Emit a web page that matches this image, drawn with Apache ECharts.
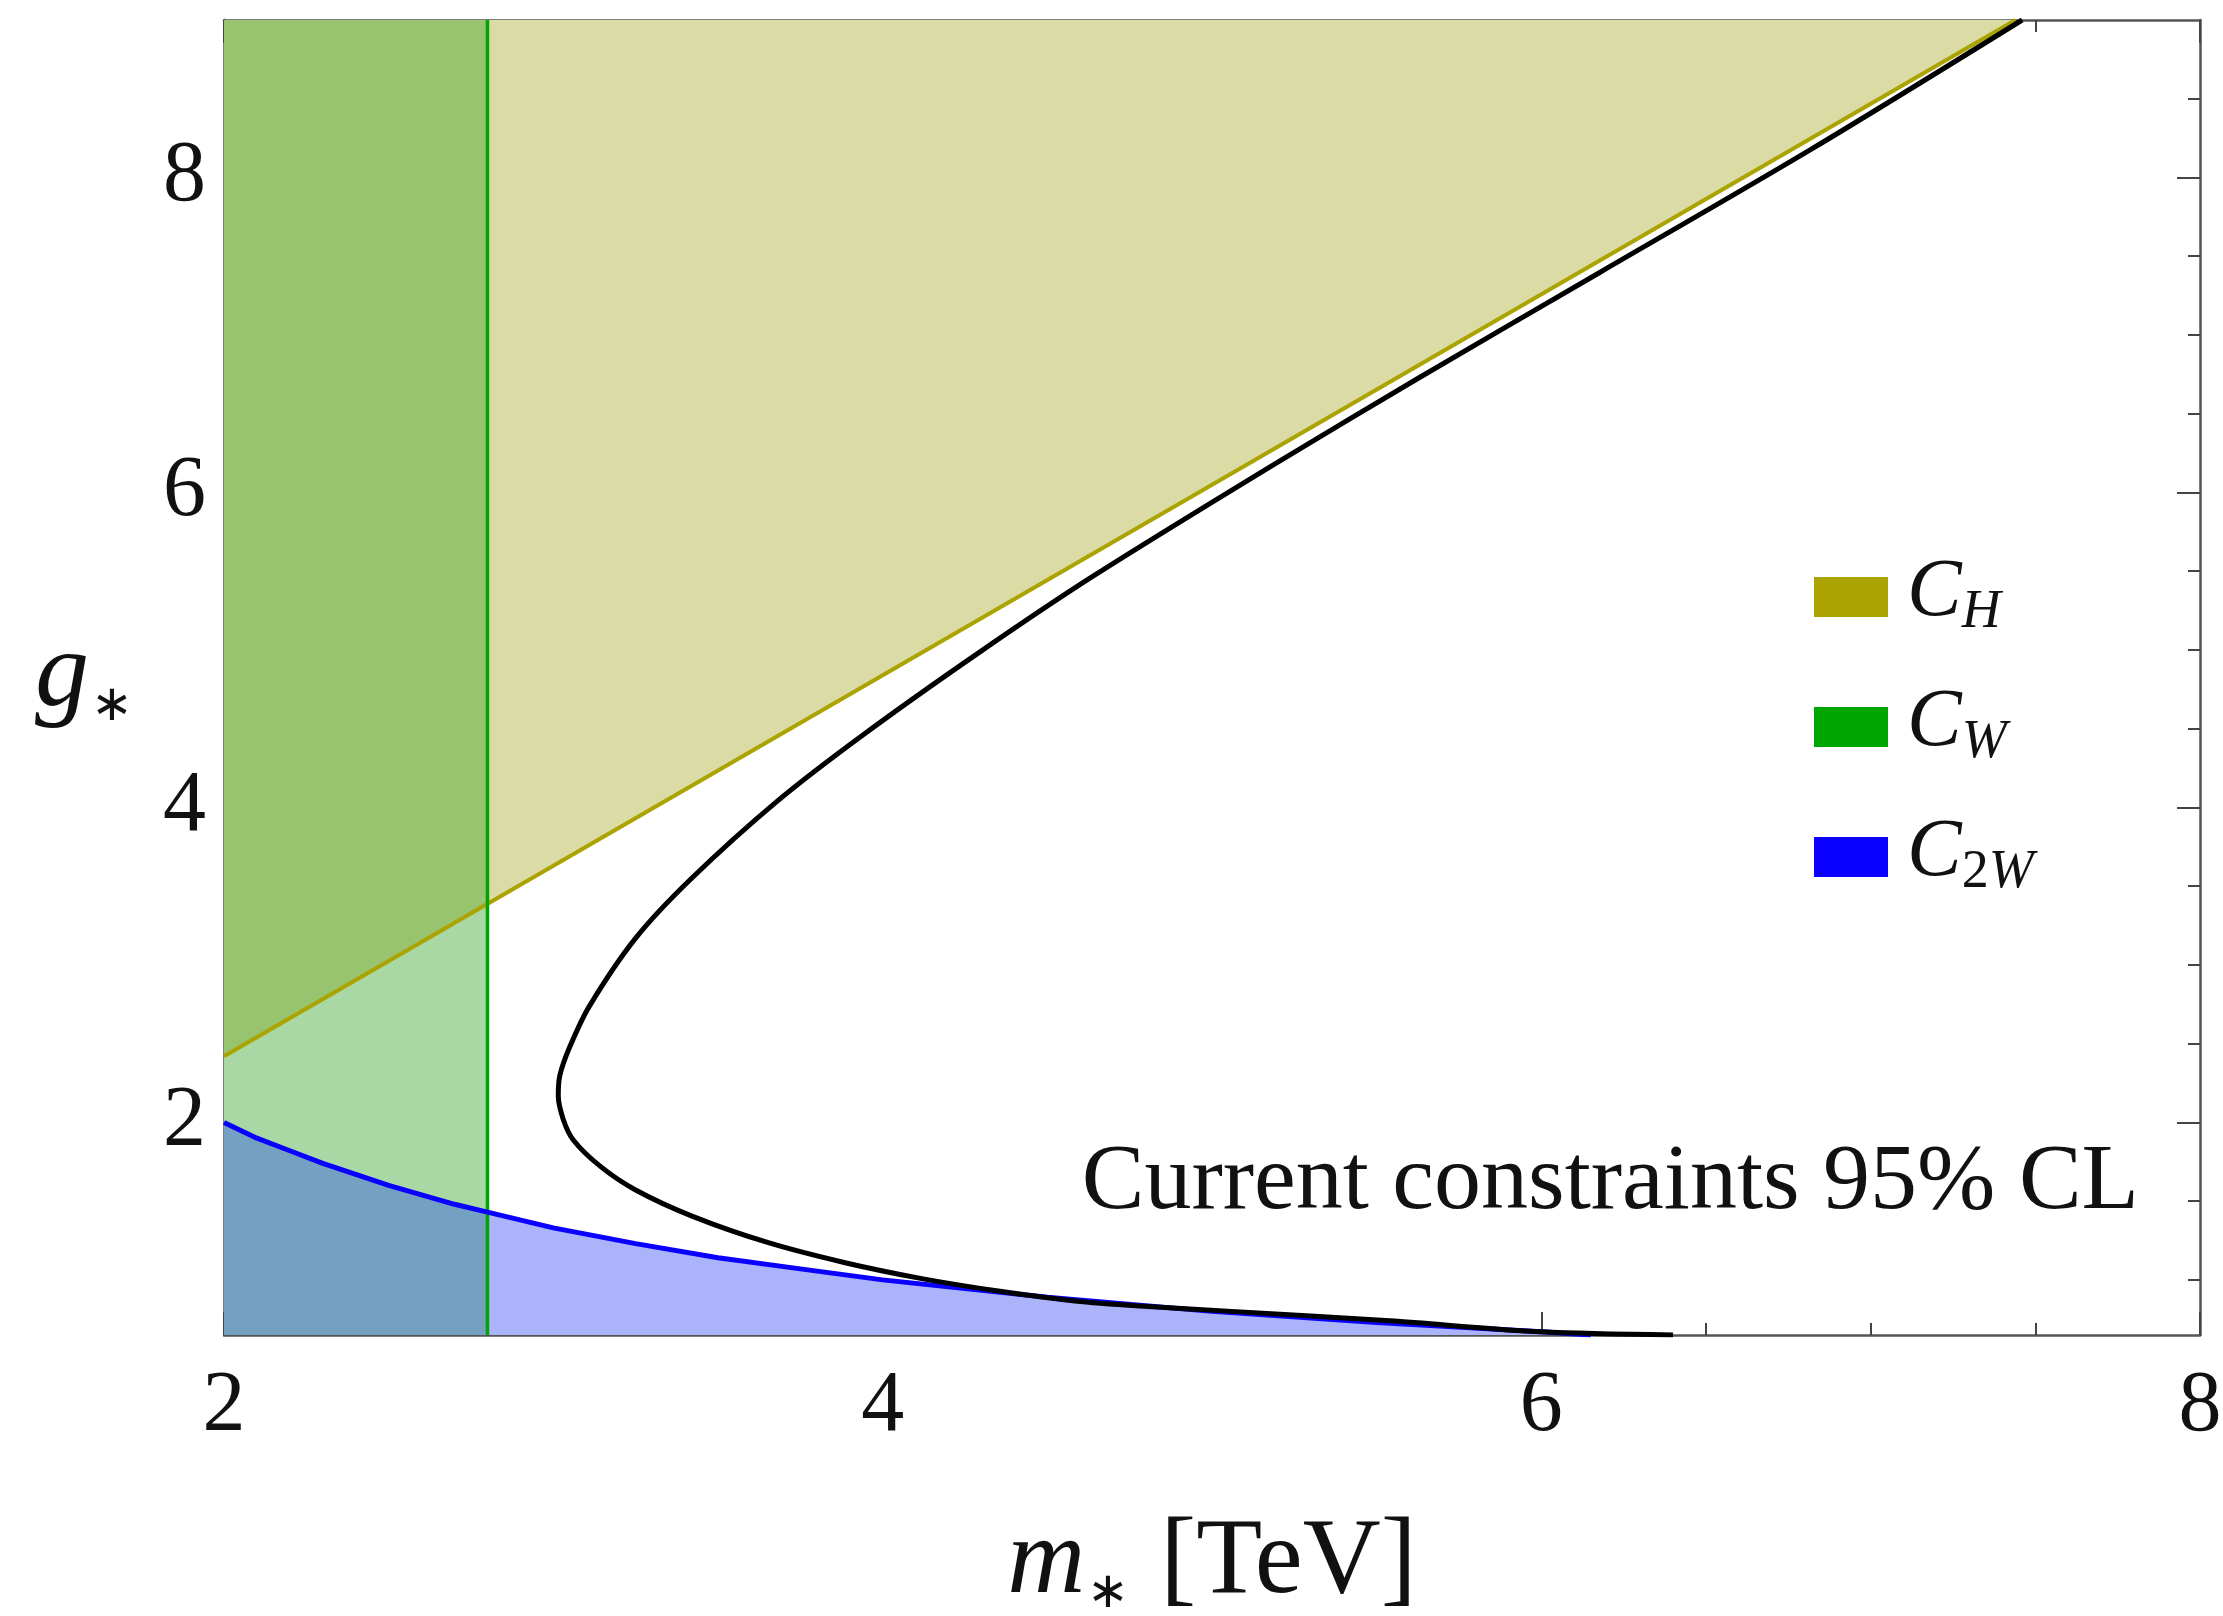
<!DOCTYPE html>
<html>
<head>
<meta charset="utf-8">
<script src="https://cdn.jsdelivr.net/npm/echarts@6.0.0/dist/echarts.min.js"></script>
<style>
  html, body { margin: 0; padding: 0; background: #fff; }
  #main { width: 2223px; height: 1616px; }
</style>
</head>
<body>
<div id="main"></div>
<script>
const serif = 'Liberation Serif';

// axes
const mRange = [2, 8];
const gRange = [0.65, 9];
const mTicks = [2, 4, 6, 8];
const mMinorTicks = [2.5, 3, 3.5, 4.5, 5, 5.5, 6.5, 7, 7.5];
const gTicks = [2, 4, 6, 8];
const gMinorTicks = [1, 1.5, 2.5, 3, 3.5, 4.5, 5, 5.5, 6.5, 7, 7.5, 8.5];

// C_H bound (straight line), excluded above it
const cHLine = [[2, 2.42], [7.44, 9]];
// C_W bound, m* below this is excluded
const cWMass = 2.8;
// C_2W bound, excluded below it
const c2WCurve = [
    [2, 2.0], [2.1, 1.9], [2.2, 1.82], [2.3, 1.74], [2.4, 1.67], [2.5, 1.6], [2.6, 1.54],
    [2.7, 1.48], [2.8, 1.43], [3.0, 1.33], [3.25, 1.23], [3.5, 1.14], [3.75, 1.07],
    [4.0, 1.0], [4.5, 0.89], [5.0, 0.8], [5.5, 0.73], [6.0, 0.67], [6.15, 0.65]
];
// black contour
const blackCurve = [
    [7.46, 9.0], [6.82, 8.18], [6.18, 7.4], [5.63, 6.73], [5.19, 6.18], [4.64, 5.47],
    [4.29, 4.98], [3.94, 4.46], [3.68, 4.04], [3.42, 3.55], [3.25, 3.17], [3.11, 2.74],
    [3.05, 2.48], [3.02, 2.3], [3.015, 2.17], [3.03, 2.02], [3.06, 1.89], [3.142, 1.722],
    [3.247, 1.574], [3.421, 1.405], [3.653, 1.236], [3.886, 1.109], [4.119, 1.008],
    [4.351, 0.929], [4.584, 0.866], [4.78, 0.834], [5.06, 0.8], [5.54, 0.74],
    [6.0, 0.67], [6.4, 0.65]
];

const legendNames = ['CH', 'CW', 'C2W'];
const legendLabels = {
    CH: '{c|C}{s|H}',
    CW: '{c|C}{s|W}',
    C2W: '{c|C}{n|2}{s|W}'
};
const noteText = 'Current constraints 95% CL';

// ---- region polygons built from the bounds above ----
function lineAt(m) {
    const a = cHLine[0], b = cHLine[1];
    return a[1] + (m - a[0]) * (b[1] - a[1]) / (b[0] - a[0]);
}
const gBot = gRange[0], gTop = gRange[1], mLeft = mRange[0];
const c2WLeft = c2WCurve.filter(p => p[0] <= cWMass);
const regions = [
    { pts: [cHLine[0], cHLine[1], [mLeft, gTop]], color: '#dbdba6' },                       // C_H only
    { pts: c2WCurve.concat([[mLeft, gBot]]), color: '#abb4fa' },                             // C_2W only
    { pts: c2WLeft.concat([[cWMass, gBot], [mLeft, gBot]]), color: '#74a1c2' },              // C_W + C_2W
    { pts: [cHLine[0], [cWMass, lineAt(cWMass)]].concat(c2WLeft.slice().reverse()), color: '#aad8a5' }, // C_W only
    { pts: [cHLine[0], [cWMass, lineAt(cWMass)], [cWMass, gTop], [mLeft, gTop]], color: '#99c46f' }     // C_W + C_H
];

const frameLine = { show: true, lineStyle: { color: '#555', width: 2.5 } };
const tickLine = { color: '#444', width: 2 };

function axis(pos, range, ticks, len, extra) {
    return Object.assign({
        type: 'value',
        position: pos,
        min: range[0],
        max: range[1],
        axisLine: frameLine,
        axisTick: { show: true, inside: true, length: len, customValues: ticks, lineStyle: tickLine },
        axisLabel: { show: false },
        splitLine: { show: false }
    }, extra || {});
}

const tickFont = { fontFamily: serif, fontSize: 86, color: '#111' };
const titleRich = {
    v: { fontFamily: serif, fontStyle: 'italic', fontSize: 108, lineHeight: 108, verticalAlign: 'bottom', padding: [0, 0, 15, 0] },
    s: { fontFamily: serif, fontSize: 50, lineHeight: 108, verticalAlign: 'bottom', padding: [0, 4, 14, 2] },
    t: { fontFamily: serif, fontSize: 108, lineHeight: 108, verticalAlign: 'bottom', padding: [0, 0, 15, 0] }
};

const chart = echarts.init(document.getElementById('main'));
chart.setOption({
    animation: false,
    backgroundColor: '#fff',
    textStyle: { fontFamily: serif },
    grid: { left: 224, right: 23, top: 20, bottom: 281, outerBoundsMode: 'none', containLabel: false },
    xAxis: [
        axis('bottom', mRange, mTicks, 23, {
            axisLabel: Object.assign({ show: true, customValues: mTicks, margin: 29 }, tickFont),
            name: '{v|m}{s|∗}{t| [TeV]}',
            nameLocation: 'middle',
            nameGap: 190,
            nameTextStyle: { fontFamily: serif, fontSize: 108, color: '#111', rich: titleRich }
        }),
        axis('bottom', mRange, mMinorTicks, 12, { axisLine: { show: false } }),
        axis('top', mRange, mTicks, 23),
        axis('top', mRange, mMinorTicks, 12, { axisLine: { show: false } })
    ],
    yAxis: [
        axis('left', gRange, gTicks, 23, {
            axisLabel: Object.assign({ show: true, customValues: gTicks, margin: 18 }, tickFont),
            name: '{v|g}{s|∗}',
            nameLocation: 'middle',
            nameRotate: 0,
            nameGap: 87,
            nameTextStyle: { fontFamily: serif, fontSize: 108, color: '#111', padding: [28, 0, 0, 0], rich: titleRich }
        }),
        axis('left', gRange, gMinorTicks, 12, { axisLine: { show: false } }),
        axis('right', gRange, gTicks, 23),
        axis('right', gRange, gMinorTicks, 12, { axisLine: { show: false } })
    ],
    legend: {
        orient: 'vertical',
        left: 1814,
        top: 552,
        padding: 0,
        itemGap: 42,
        itemWidth: 74,
        itemHeight: 40,
        icon: 'rect',
        selectedMode: false,
        data: [
            { name: legendNames[0], itemStyle: { color: '#aba300', borderWidth: 0 } },
            { name: legendNames[1], itemStyle: { color: '#00a600', borderWidth: 0 } },
            { name: legendNames[2], itemStyle: { color: '#0a00ff', borderWidth: 0 } }
        ],
        formatter: name => legendLabels[name],
        textStyle: {
            fontFamily: serif, color: '#111',
            rich: {
                c: { fontFamily: serif, fontStyle: 'italic', fontSize: 82, lineHeight: 86, verticalAlign: 'bottom', padding: [0, 0, 6, 14] },
                s: { fontFamily: serif, fontStyle: 'italic', fontSize: 54, lineHeight: 86, verticalAlign: 'bottom' },
                n: { fontFamily: serif, fontSize: 54, lineHeight: 86, verticalAlign: 'bottom' }
            }
        }
    },
    graphic: [{
        type: 'text', x: 2139, y: 1183, z: 10,
        style: { text: noteText, fontFamily: serif, fontSize: 94, fill: '#111', align: 'right', verticalAlign: 'middle' }
    }],
    series: [
        {
            type: 'custom',
            silent: true,
            z: 1,
            data: regions.map(r => r.pts[0]),
            renderItem: (params, api) => {
                const r = regions[params.dataIndex];
                return {
                    type: 'polygon',
                    shape: { points: r.pts.map(p => api.coord(p)) },
                    style: { fill: r.color }
                };
            }
        },
        {
            name: legendNames[0], type: 'line', data: cHLine, symbol: 'none', z: 3,
            itemStyle: { color: '#aba300' }, lineStyle: { color: '#aba300', width: 4 }
        },
        {
            name: legendNames[1], type: 'line', data: [[cWMass, gBot], [cWMass, gTop]], symbol: 'none', z: 3,
            itemStyle: { color: '#00a600' }, lineStyle: { color: '#00a600', width: 3.5 }
        },
        {
            name: legendNames[2], type: 'line', data: c2WCurve, symbol: 'none', z: 4,
            itemStyle: { color: '#0a00ff' }, lineStyle: { color: '#0a00ff', width: 5 }
        },
        {
            name: 'projection', type: 'line', data: blackCurve, symbol: 'none', smooth: 0.3, z: 5,
            itemStyle: { color: '#000' }, lineStyle: { color: '#000', width: 5 }
        }
    ]
});
</script>
</body>
</html>
